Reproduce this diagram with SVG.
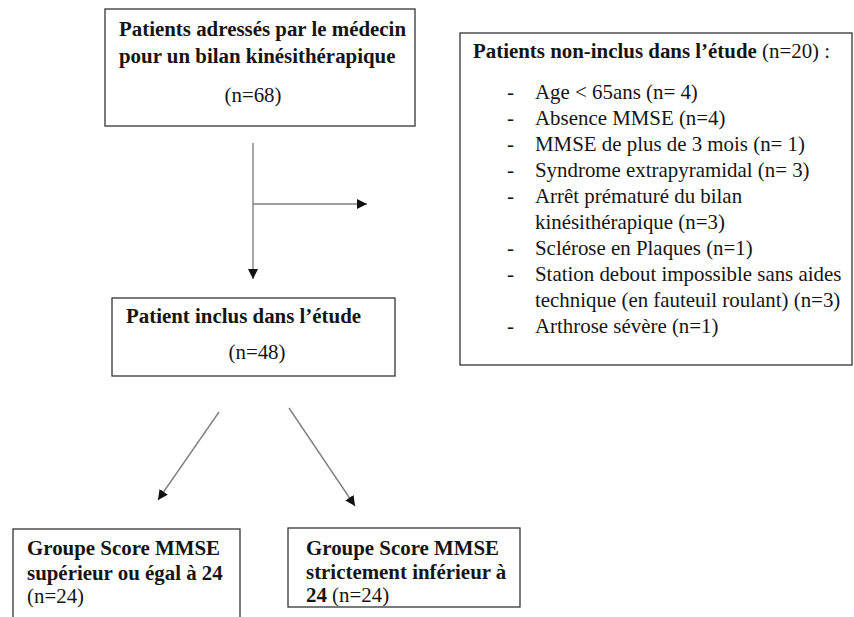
<svg xmlns="http://www.w3.org/2000/svg" width="854" height="617" viewBox="0 0 854 617">
  <defs>
    <style>
      .box { fill: #ffffff; stroke: #333333; stroke-width: 1.3; }
      .t { font-family: "Liberation Serif", "Times New Roman", serif; font-size: 20.9px; fill: #151515; }
      .b { font-weight: bold; }
      .link { stroke: #808080; stroke-width: 1.4; fill: none; marker-end: url(#head); }
    </style>
    <marker id="head" viewBox="0 0 10 10" refX="10" refY="5" markerWidth="10" markerHeight="10" markerUnits="userSpaceOnUse" orient="auto">
      <path d="M0,0 L10,5 L0,10 Z" fill="#111111"/>
    </marker>
  </defs>
  <rect width="854" height="617" fill="#ffffff"/>

  <g id="referred">
    <rect class="box" x="105" y="9" width="310" height="117"/>
    <text class="t b" x="119" y="36">Patients adressés par le médecin</text>
    <text class="t b" x="119" y="63">pour un bilan kinésithérapique</text>
    <text class="t" x="253" y="102" text-anchor="middle">(n=68)</text>
  </g>

  <g id="excluded">
    <rect class="box" x="460" y="33" width="392" height="332"/>
    <text class="t" x="473" y="58"><tspan class="b">Patients non-inclus dans l’étude</tspan> (n=20) :</text>
    <g class="t">
      <text x="507" y="99">-</text><text x="535" y="99">Age &lt; 65ans (n= 4)</text>
      <text x="507" y="125">-</text><text x="535" y="125">Absence MMSE (n=4)</text>
      <text x="507" y="151">-</text><text x="535" y="151">MMSE de plus de 3 mois (n= 1)</text>
      <text x="507" y="177">-</text><text x="535" y="177">Syndrome extrapyramidal (n= 3)</text>
      <text x="507" y="203">-</text><text x="535" y="203">Arrêt prématuré du bilan</text>
      <text x="535" y="229">kinésithérapique (n=3)</text>
      <text x="507" y="255">-</text><text x="535" y="255">Sclérose en Plaques (n=1)</text>
      <text x="507" y="281">-</text><text x="535" y="281">Station debout impossible sans aides</text>
      <text x="535" y="307">technique (en fauteuil roulant) (n=3)</text>
      <text x="507" y="333">-</text><text x="535" y="333">Arthrose sévère (n=1)</text>
    </g>
  </g>

  <g id="included">
    <rect class="box" x="112" y="298" width="283" height="78"/>
    <text class="t b" x="126" y="323">Patient inclus dans l’étude</text>
    <text class="t" x="257" y="359" text-anchor="middle">(n=48)</text>
  </g>

  <g id="mmse-high">
    <rect class="box" x="13" y="529" width="227" height="100"/>
    <text class="t b" x="27" y="555">Groupe Score MMSE</text>
    <text class="t b" x="27" y="580">supérieur ou égal à 24</text>
    <text class="t" x="27" y="603">(n=24)</text>
  </g>

  <g id="mmse-low">
    <rect class="box" x="288" y="528" width="232" height="79"/>
    <text class="t b" x="306" y="555">Groupe Score MMSE</text>
    <text class="t b" x="306" y="579">strictement inférieur à</text>
    <text class="t" x="306" y="602"><tspan class="b">24</tspan> (n=24)</text>
  </g>

  <g id="connectors">
    <line class="link" x1="253" y1="143" x2="253" y2="279"/>
    <line class="link" x1="253" y1="204" x2="367" y2="204"/>
    <line class="link" x1="219" y1="412" x2="158" y2="500"/>
    <line class="link" x1="289" y1="408" x2="355" y2="506"/>
  </g>
</svg>
